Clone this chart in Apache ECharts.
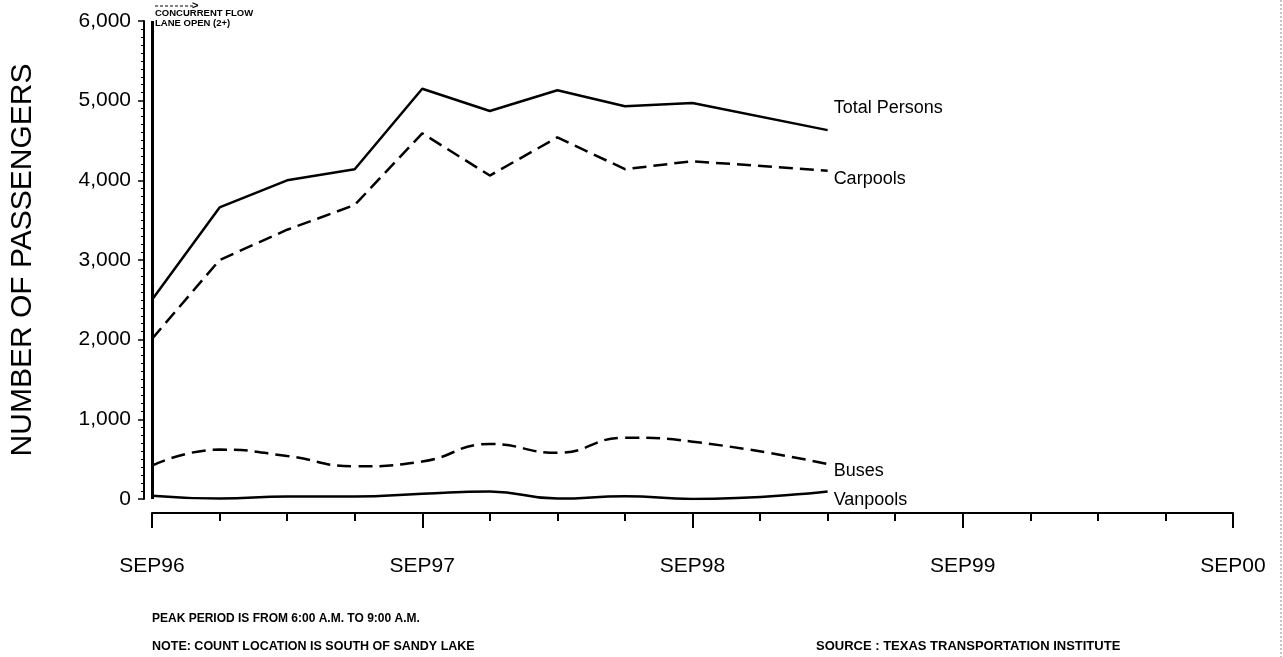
<!DOCTYPE html>
<html>
<head>
<meta charset="utf-8">
<script src="https://cdn.jsdelivr.net/npm/echarts@6/dist/echarts.min.js"></script>
<style>
html,body{margin:0;padding:0;background:#fff;}
#chart{width:1283px;height:657px;}
</style>
</head>
<body>
<div id="chart"></div>
<script>
// quarter index from SEP96 (0 = SEP96, 4 = SEP97, ...)
var quarters = [0, 1, 2, 3, 4, 5, 6, 7, 8, 10];
var totalPersons = [2500, 3660, 4000, 4140, 5150, 4870, 5130, 4930, 4970, 4630];
var carpools     = [2010, 3000, 3380, 3690, 4590, 4060, 4540, 4140, 4240, 4120];
var buses        = [420, 620, 540, 410, 470, 690, 580, 770, 720, 440];
var vanpools     = [40, 5, 30, 30, 65, 95, 5, 35, 0, 95];
var xTickLabels = ['SEP96', 'SEP97', 'SEP98', 'SEP99', 'SEP00'];
var yTickValues = [0, 1000, 2000, 3000, 4000, 5000, 6000];

function pairs(ys) { return quarters.map(function (q, i) { return [q, ys[i]]; }); }

var FONT = 'Liberation Sans, Arial, sans-serif';
var chart = echarts.init(document.getElementById('chart'));

function lineSeries(name, ys, dashed, smooth, labelOffset) {
  return {
    name: name,
    type: 'line',
    data: pairs(ys),
    smooth: smooth,
    symbol: 'none',
    lineStyle: { color: '#000', width: 2.5, type: dashed ? [14, 7] : 'solid' },
    endLabel: {
      show: true,
      formatter: name,
      color: '#000',
      fontFamily: FONT,
      fontSize: 18,
      distance: 6,
      offset: labelOffset
    },
    z: 3
  };
}

var option = {
  backgroundColor: '#fff',
  animation: false,
  grid: { left: 152, right: 50, top: 21, bottom: 158, containLabel: false },
  xAxis: {
    type: 'value',
    min: 0, max: 16, interval: 4,
    offset: 14,
    axisLine: { show: true, onZero: false, lineStyle: { color: '#000', width: 2 } },
    axisTick: { show: true, length: 15, lineStyle: { color: '#000', width: 2 } },
    minorTick: { show: true, splitNumber: 4, length: 8, lineStyle: { color: '#000', width: 2 } },
    splitLine: { show: false },
    axisLabel: {
      color: '#000', fontFamily: FONT, fontSize: 21, margin: 43,
      formatter: function (v) { return xTickLabels[Math.round(v / 4)] || ''; }
    }
  },
  yAxis: {
    type: 'value',
    min: yTickValues[0], max: yTickValues[yTickValues.length - 1], interval: 1000,
    offset: 8,
    name: 'NUMBER OF PASSENGERS',
    nameLocation: 'middle',
    nameGap: 106,
    nameTextStyle: { color: '#000', fontFamily: FONT, fontSize: 30 },
    axisLine: { show: true, onZero: false, lineStyle: { color: '#000', width: 2 } },
    axisTick: { show: true, length: 6, lineStyle: { color: '#000', width: 1.5 } },
    minorTick: { show: true, splitNumber: 10, length: 3, lineStyle: { color: '#000', width: 1 } },
    splitLine: { show: false },
    axisLabel: {
      color: '#000', fontFamily: FONT, fontSize: 21, margin: 13,
      formatter: function (v) { return v.toLocaleString('en-US'); }
    }
  },
  series: [
    Object.assign(lineSeries('Total Persons', totalPersons, false, false, [0, -22]), {
      markLine: {
        silent: true, symbol: 'none',
        label: { show: false },
        lineStyle: { color: '#000', width: 3, type: 'solid' },
        data: [{ xAxis: 0 }]
      }
    }),
    lineSeries('Carpools', carpools, true, false, [0, 8]),
    lineSeries('Buses', buses, true, 0.5, [0, 7]),
    lineSeries('Vanpools', vanpools, false, 0.5, [0, 9])
  ],
  graphic: [
    { type: 'line', shape: { x1: 155, y1: 6, x2: 194, y2: 6 },
      style: { stroke: '#000', lineWidth: 1, lineDash: [3, 2] } },
    { type: 'text', left: 192, top: 0,
      style: { text: '>', fill: '#000', font: 'bold 11px ' + FONT } },
    { type: 'text', left: 155, top: 8,
      style: { text: 'CONCURRENT FLOW\nLANE OPEN (2+)', fill: '#000', font: 'bold 9.5px ' + FONT, lineHeight: 10 } },
    { type: 'text', left: 152, top: 613,
      style: { text: 'PEAK PERIOD IS FROM 6:00 A.M. TO 9:00 A.M.', fill: '#000', font: 'bold 12px ' + FONT } },
    { type: 'text', left: 152, top: 640,
      style: { text: 'NOTE: COUNT LOCATION IS SOUTH OF SANDY LAKE', fill: '#000', font: 'bold 12.5px ' + FONT } },
    { type: 'text', left: 816, top: 640,
      style: { text: 'SOURCE : TEXAS TRANSPORTATION INSTITUTE', fill: '#000', font: 'bold 13px ' + FONT } },
    { type: 'line', shape: { x1: 1281, y1: 0, x2: 1281, y2: 657 },
      style: { stroke: '#888', lineWidth: 1, lineDash: [2, 2] } }
  ]
};
chart.setOption(option);
</script>
</body>
</html>
